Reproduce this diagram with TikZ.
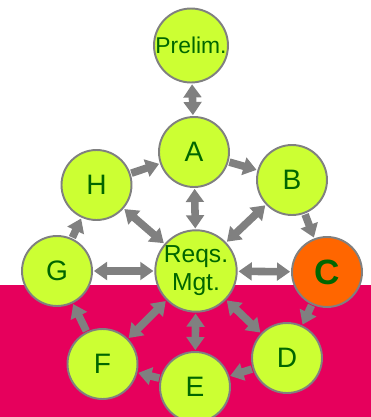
\documentclass[tikz,border=0pt]{standalone}
\usepackage{fontspec}
\setmainfont{Liberation Sans}
\usepackage{xcolor}
\usepackage{tikz}
\usetikzlibrary{arrows.meta,positioning,backgrounds}

\definecolor{phasefill}{HTML}{CCFF33}
\definecolor{phasetext}{HTML}{006600}
\definecolor{phaseedge}{HTML}{808080}
\definecolor{current}{HTML}{FF6600}
\definecolor{band}{HTML}{E6005C}

\begin{document}
\begin{tikzpicture}[
    x=0.02cm, y=0.02cm,
    phase/.style={
        circle,
        draw=phaseedge,
        line width=1.1pt,
        fill=#1,
        minimum size=1.4cm,
        inner sep=0pt,
        align=center,
        text=phasetext,
        font=\fontsize{16}{18}\selectfont
    },
    phase/.default=phasefill,
    small/.style={font=\fontsize{14}{16}\selectfont},
    flow/.style={-{Triangle[width=10pt,length=7.5pt]}, line width=4.3pt, draw=phaseedge,
        shorten >=0.5pt, shorten <=0.5pt},
    both/.style={flow, {Triangle[width=10pt,length=7.5pt]}-{Triangle[width=10pt,length=7.5pt]}}
]

% Background
\fill[white] (0,0) rectangle (371,417);
\fill[band] (0,0) rectangle (371,132);
\useasboundingbox (0,0) rectangle (371,417);

% Phases
\node[phase, minimum size=1.48cm, font=\fontsize{13}{15}\selectfont] (prelim) at (191,371.5) {Prelim.};
\node[phase] (a) at (194,265) {A};
\node[phase] (b) at (292,237) {B};
\node[phase=current, font=\fontsize{20}{22}\selectfont\bfseries] (c) at (327,145) {C};
\node[phase] (d) at (287,59) {D};
\node[phase] (e) at (195,30) {E};
\node[phase] (f) at (102.5,53) {F};
\node[phase] (g) at (57,146) {G};
\node[phase] (h) at (96.5,232) {H};
\node[phase, small] (reqs) at (196,146) {Reqs.\\Mgt.};

% Cycle
\draw[flow] (h) -- (a);
\draw[flow] (a) -- (b);
\draw[flow] (b) -- (c);
\draw[flow] (c) -- (d);
\draw[flow] (d) -- (e);
\draw[flow] (e) -- (f);
\draw[flow] (f) -- (g);
\draw[flow] (g) -- (h);

% Requirements management links
\draw[both] (prelim) -- (a);
\draw[both] (reqs) -- (a);
\draw[both] (reqs) -- (b);
\draw[both] (reqs) -- (c);
\draw[both] (reqs) -- (d);
\draw[both] (reqs) -- (e);
\draw[both] (reqs) -- (f);
\draw[both] (reqs) -- (g);
\draw[both] (reqs) -- (h);

\end{tikzpicture}
\end{document}
